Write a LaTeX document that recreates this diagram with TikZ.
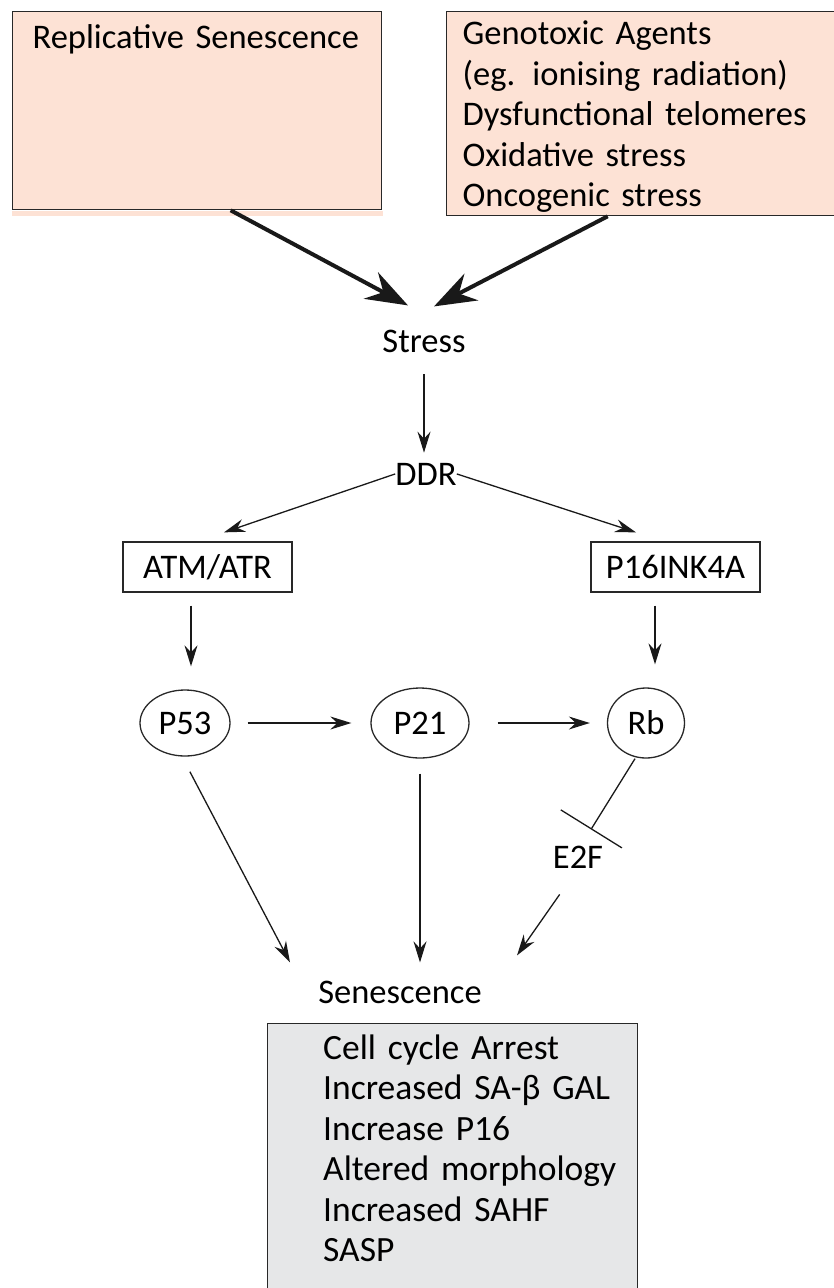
\documentclass[tikz,border=0pt]{standalone}
\usepackage{fontspec}
\setmainfont{Carlito}[WordSpace=0.8]
\usetikzlibrary{arrows.meta,shapes.geometric}
\definecolor{causefill}{RGB}{253,226,213}
\definecolor{phenofill}{RGB}{230,231,232}
\definecolor{edgegray}{RGB}{40,40,40}
\newcommand{\pathmol}[4][]{\node[mol,#1] at (#2) (#3) {#4}}

\begin{document}
\begin{tikzpicture}[x=1pt,y=-1pt,
    every node/.style={font=\fontsize{34.5}{40.5}\selectfont,inner sep=0pt},
    cause/.style={draw=edgegray,line width=1.3pt,fill=causefill,anchor=north west,align=left,text height=22pt},
    gene/.style={draw=edgegray,line width=1.3pt,minimum width=169pt,minimum height=50pt},
    mol/.style={ellipse,draw=edgegray,line width=1.3pt,minimum height=66pt},
    act/.style={-{Stealth[length=21pt,width=13pt,inset=7pt]},line width=1.3pt,draw=black!90},
    bigact/.style={-{Stealth[length=42pt,width=30pt,inset=14pt]},line width=4pt,draw=black!90},
    inhib/.style={-{Bar[width=72pt]},line width=1.3pt,draw=black!90}]
\useasboundingbox (0,0) rectangle (833,1288);

\node[cause,inner xsep=20pt,inner ysep=15pt,text width=329pt,text depth=146pt] at (12,11) (rep) {Replicative Senescence};
\fill[causefill] ([yshift=-1pt]rep.south west) rectangle ([xshift=1pt,yshift=-6pt]rep.south east);
\node[cause,inner xsep=16pt,inner ysep=11pt,text width=368pt,text depth=160pt] at (446,11) (geno) {Genotoxic Agents\\(eg. ionising radiation)\\Dysfunctional telomeres\\Oxidative stress\\Oncogenic stress};

\node[anchor=base] at (424,352) (stress) {Stress};
\node[anchor=base] at (426,485) (ddr) {DDR};
\node[gene] at (207.5,567) (atm) {ATM/ATR};
\node[gene] at (675.5,567) (p16) {P16INK4A};

\pathmol[minimum width=90pt]{185,723}{p53}{P53};
\pathmol[minimum width=98pt,minimum height=70pt]{420,723}{p21}{P21};
\pathmol[minimum width=77pt,minimum height=70pt]{646,723}{rb}{Rb};

\node[anchor=base] at (578,868) (e2f) {E2F};
\node[anchor=base] at (400,1003) (sen) {Senescence};
\node[draw=edgegray,line width=1.3pt,fill=phenofill,anchor=north west,minimum width=370pt,minimum height=280pt] at (267,1023) (phenobox) {};
\node[anchor=base west,text width=300pt,align=left,font=\fontsize{35.5}{40.5}\selectfont] at (323,1059) (pheno) {Cell cycle Arrest\\Increased SA-β GAL\\Increase P16\\Altered morphology\\Increased SAHF\\SASP};

\draw[bigact] ([xshift=33.5pt]rep.south) -- ([xshift=-16pt,yshift=24pt]stress.north);
\draw[bigact] ([xshift=-39pt]geno.south) -- ([xshift=10pt,yshift=23pt]stress.north);
\draw[act,shorten <=22pt,shorten >=10pt] (stress.south) -- (stress.south |- ddr.north);
\draw[act] (ddr.west) -- ([xshift=16.5pt,yshift=9pt]atm.north);
\draw[act] (ddr.east) -- ([xshift=-39.5pt,yshift=9pt]p16.north);
\draw[act,shorten <=13pt,shorten >=23pt] ([xshift=-16.5pt]atm.south) -- ([xshift=-16.5pt]atm.south |- p53.north);
\draw[act,shorten <=13pt,shorten >=23pt] ([xshift=-20.5pt]p16.south) -- ([xshift=-20.5pt]p16.south |- rb.north);
\draw[act,shorten <=17pt,shorten >=19pt] (p53) -- (p21);
\draw[act,shorten <=28pt,shorten >=17pt] (p21) -- (rb);
\draw[inhib] ([xshift=-11pt]rb.south) -- ([xshift=13pt,yshift=16pt]e2f.north);
\draw[act,shorten <=17pt] ([xshift=-3pt]p53.south) -- ([xshift=-110pt,yshift=18pt]sen.north);
\draw[act,shorten <=15pt] (p21.south) -- ([xshift=20pt,yshift=18pt]sen.north);
\draw[act,shorten <=32pt] (e2f.south) -- ([xshift=117pt,yshift=25pt]sen.north);
\end{tikzpicture}
\end{document}
